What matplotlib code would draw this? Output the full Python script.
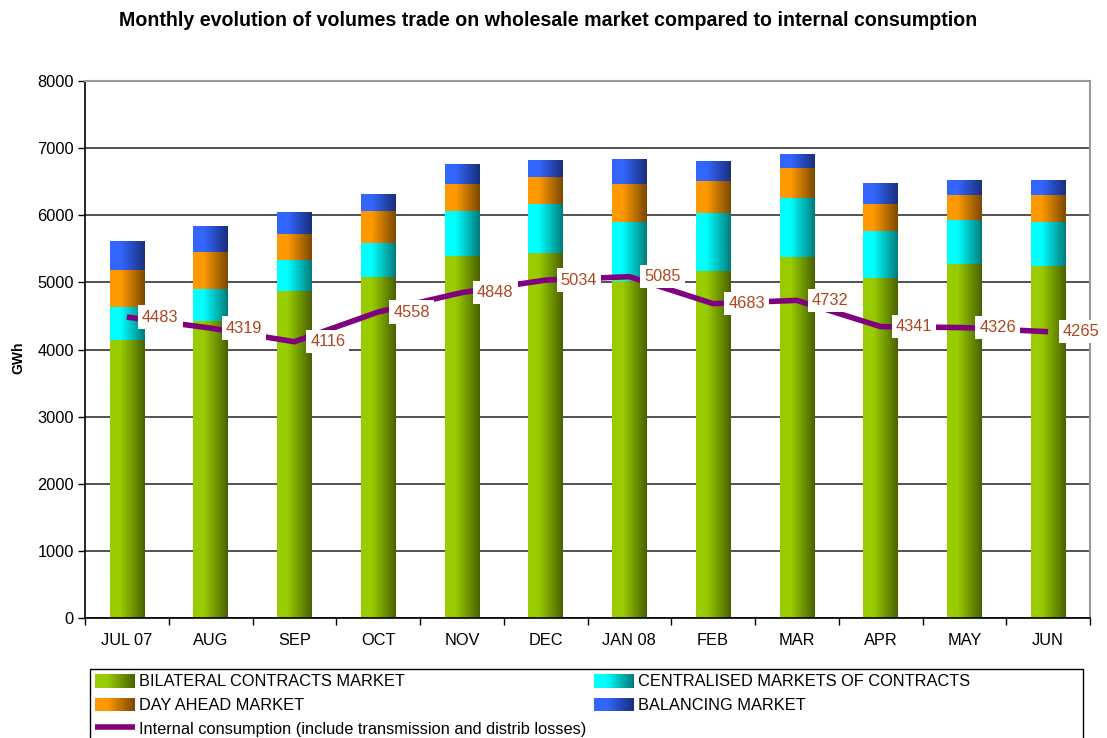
import matplotlib
matplotlib.use("Agg")
import matplotlib.pyplot as plt
import numpy as np
from matplotlib.colors import LinearSegmentedColormap
from matplotlib.legend_handler import HandlerBase
from matplotlib.patches import Rectangle
from matplotlib.lines import Line2D

plt.rcParams['font.family'] = ['Liberation Sans', 'DejaVu Sans']

months = ["JUL 07", "AUG", "SEP", "OCT", "NOV", "DEC", "JAN 08", "FEB", "MAR", "APR", "MAY", "JUN"]
bilateral = [4142, 4425, 4876, 5076, 5398, 5438, 5020, 5174, 5378, 5070, 5277, 5240]
centralised = [491, 476, 457, 511, 665, 734, 884, 859, 884, 694, 652, 664]
day_ahead = [551, 552, 388, 476, 403, 398, 566, 477, 442, 404, 373, 398]
balancing = [432, 387, 327, 254, 298, 253, 368, 298, 208, 312, 223, 223]
consumption = [4483, 4319, 4116, 4558, 4848, 5034, 5085, 4683, 4732, 4341, 4326, 4265]

series_names = ["BILATERAL CONTRACTS MARKET", "CENTRALISED MARKETS OF CONTRACTS",
                "DAY AHEAD MARKET", "BALANCING MARKET"]
line_name = "Internal consumption (include transmission and distrib losses)"
grad_colors = [("#99CC00", "#4A6200"), ("#00FFFF", "#007C7C"),
               ("#FF9900", "#7C4A00"), ("#3366FF", "#19307C")]
line_color = "#800080"
label_color = "#B0461E"


def make_cmap(c0, c1):
    return LinearSegmentedColormap.from_list("g", [(0, c0), (0.3, c0), (1, c1)])


fig = plt.figure(figsize=(11.07, 7.38), dpi=100)
ax = fig.add_axes([85 / 1107, 1 - 618 / 738, (1090 - 85) / 1107, (618 - 81) / 738])

x = np.arange(len(months))
width = 0.41
bottom = np.zeros(len(months))
grad = np.linspace(0, 1, 64).reshape(1, -1)
for vals, (c0, c1) in zip([bilateral, centralised, day_ahead, balancing], grad_colors):
    bars = ax.bar(x, vals, width, bottom=bottom, color=c0, edgecolor='none', zorder=2)
    cmap = make_cmap(c0, c1)
    for b in bars:
        x0, y0 = b.get_x(), b.get_y()
        im = ax.imshow(grad, cmap=cmap, aspect='auto', interpolation='bilinear',
                       extent=(x0, x0 + b.get_width(), y0, y0 + b.get_height()), zorder=2.1)
        im.set_clip_path(b)
    bottom += np.array(vals)

ax.plot(x, consumption, color=line_color, lw=4, zorder=3, solid_capstyle='butt')
for xi, v in zip(x, consumption):
    ax.annotate(str(v), (xi, v), xytext=(24, 0), textcoords='offset points',
                ha='center', va='center', fontsize=11.8, color=label_color, zorder=4,
                bbox=dict(boxstyle='square,pad=0.25', fc='white', ec='none'))

ax.set_xlim(-0.5, len(months) - 0.5)
ax.set_ylim(0, 8000)
ax.set_yticks(np.arange(0, 8001, 1000))
ax.yaxis.grid(True, color='#222222', lw=1.1, zorder=1)
ax.set_axisbelow(True)
ax.set_xticks(x)
ax.set_xticklabels(months, fontsize=11.8)
ax.set_xticks(np.arange(-0.5, len(months)), minor=True)
ax.tick_params(axis='x', which='major', length=0, pad=11)
ax.tick_params(axis='x', which='minor', length=5, width=1, color='black', direction='out')
ax.tick_params(axis='y', length=5, width=1, direction='out', labelsize=11.8, pad=3)
for s in ['left', 'bottom']:
    ax.spines[s].set_color('black')
    ax.spines[s].set_linewidth(1.2)
for s in ['top', 'right']:
    ax.spines[s].set_color('#999999')
    ax.spines[s].set_linewidth(1.5)

fig.text(548 / 1107, 1 - 21 / 738,
         "Monthly evolution of volumes trade on wholesale market compared to internal consumption",
         ha='center', va='center', fontsize=14.1, fontweight='bold')
fig.text(18 / 1107, 1 - 358 / 738, "GWh", rotation=90, ha='center', va='center',
         fontsize=10, fontweight='bold')


class GradProxy:
    def __init__(self, c0, c1):
        self.c0, self.c1 = c0, c1


class GradHandler(HandlerBase):
    def create_artists(self, legend, orig_handle, xdescent, ydescent, width, height, fontsize, trans):
        n = 24
        cmap = make_cmap(orig_handle.c0, orig_handle.c1)
        arts = []
        for i in range(n):
            r = Rectangle((-xdescent + i * width / n, -ydescent), width / n * 1.1, height,
                          facecolor=cmap(i / (n - 1)), edgecolor='none', transform=trans)
            arts.append(r)
        return arts


proxies = [GradProxy(c0, c1) for c0, c1 in grad_colors]
line_handle = Line2D([0], [0], color=line_color, lw=4, solid_capstyle='butt')
handles = [proxies[0], proxies[2], line_handle, proxies[1], proxies[3]]
labels = [series_names[0], series_names[2], line_name, series_names[1], series_names[3]]
leg = fig.legend(handles, labels, ncol=2, loc='upper left',
                 bbox_to_anchor=(90 / 1107, 1 - 669 / 738),
                 fontsize=11.8, frameon=False, borderaxespad=0, borderpad=0.3,
                 labelspacing=0.5, columnspacing=0.45,
                 handlelength=2.45, handleheight=0.9, handletextpad=0.25,
                 handler_map={GradProxy: GradHandler()})

frame = Rectangle((90 / 1107, -0.05), (1083 - 90) / 1107, (1 - 669 / 738) + 0.05,
                  transform=fig.transFigure, fill=False, edgecolor='black', lw=1.0)
fig.patches.append(frame)

fig.savefig("out.png", dpi=100)
